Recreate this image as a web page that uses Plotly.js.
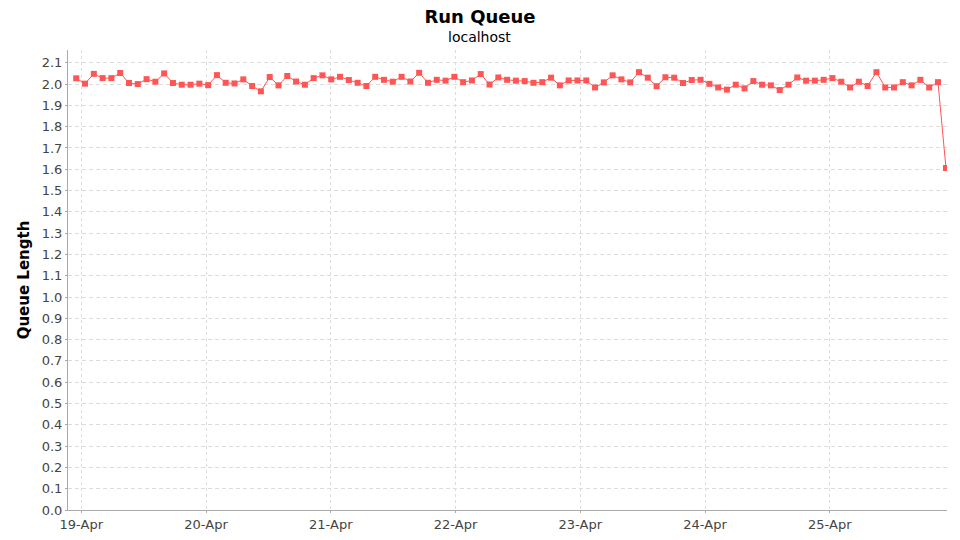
<!DOCTYPE html>
<html>
<head>
<meta charset="utf-8">
<script src="https://cdn.plot.ly/plotly-3.0.1.min.js"></script>
<style>
html,body{margin:0;padding:0;background:#fff;}
#chart{width:960px;height:540px;}
</style>
</head>
<body>
<div id="chart"></div>
<script>
// ---- data ----
const chartTitle = 'Run Queue';
const chartSubtitle = 'localhost';
const yAxisTitle = 'Queue Length';
const firstSampleTime = '2025-04-18T23:02:00';
const sampleStepMinutes = 101.5;          // regular sampling interval
const finalSampleTime = '2025-04-25T22:21:00'; // last (partial) sample
const xRange = ['2025-04-18T21:27:00', '2025-04-25T22:33:00'];
const yRange = [0, 2.16];

const queueLength = [
  2.027, 2.002, 2.048, 2.028, 2.028, 2.052, 2.005, 2.000, 2.023, 2.011, 2.050, 2.005, 1.997, 1.997, 2.002, 1.995,
  2.042, 2.006, 2.003, 2.022, 1.991, 1.966, 2.033, 1.994, 2.038, 2.012, 1.997, 2.028, 2.041, 2.022, 2.034, 2.019, 2.006,
  1.991, 2.034, 2.020, 2.011, 2.034, 2.012, 2.053, 2.006, 2.020, 2.016, 2.034, 2.009, 2.017, 2.047, 1.998, 2.031,
  2.020, 2.016, 2.014, 2.006, 2.009, 2.030, 1.994, 2.017, 2.017, 2.017, 1.984, 2.008, 2.041, 2.022, 2.008, 2.056,
  2.030,
  1.990, 2.032, 2.030, 2.005, 2.019, 2.020, 2.001, 1.984, 1.974, 1.997, 1.980, 2.014, 1.997, 1.994, 1.972, 1.997,
  2.031, 2.016, 2.016, 2.020, 2.028, 2.011, 1.984, 2.011, 1.991, 2.056, 1.984, 1.984, 2.009, 1.994, 2.020, 1.984, 2.009,
  1.606
];

// timestamps: regular samples, then the final partial sample
function fmt(d){
  const p = n => String(n).padStart(2,'0');
  return d.getFullYear()+'-'+p(d.getMonth()+1)+'-'+p(d.getDate())+' '+p(d.getHours())+':'+p(d.getMinutes())+':'+p(d.getSeconds());
}
const t0 = new Date(firstSampleTime).getTime();
const sampleTimes = queueLength.map((v,i) =>
  i === queueLength.length-1 ? finalSampleTime.replace('T',' ')
                             : fmt(new Date(t0 + i*sampleStepMinutes*60000)));

// ---- chart ----
const red = '#ff5555';
const trace = {
  x: sampleTimes,
  y: queueLength,
  type: 'scatter',
  mode: 'lines+markers',
  line: {color: red, width: 1},
  marker: {symbol: 'square', size: 6, color: red},
  hoverinfo: 'x+y'
};

const tickFont = {family: 'DejaVu Sans, sans-serif', size: 13, color: '#444'};
const gridColor = '#dcdcdc';

const layout = {
  width: 960, height: 540,
  margin: {l: 68, r: 12.5, t: 50, b: 30},
  paper_bgcolor: '#ffffff',
  plot_bgcolor: '#ffffff',
  showlegend: false,
  title: {
    text: '<b>' + chartTitle + '</b>',
    font: {family: 'DejaVu Sans, sans-serif', size: 18, color: '#000'},
    x: 0.5, xanchor: 'center', xref: 'container',
    y: 1 - 17/540, yanchor: 'middle', yref: 'container'
  },
  annotations: [{
    text: chartSubtitle,
    xref: 'paper', yref: 'paper',
    x: (480-68)/(960-68-12.5), y: 1 + 13/460,
    xanchor: 'center', yanchor: 'middle',
    showarrow: false,
    font: {family: 'DejaVu Sans, sans-serif', size: 14, color: '#000'}
  }],
  xaxis: {
    type: 'date',
    range: xRange,
    dtick: 86400000,
    tick0: '2025-04-19',
    tickformat: '%d-%b',
    tickfont: tickFont,
    ticks: 'outside', ticklen: 2, tickcolor: '#aaa',
    showline: true, linecolor: '#aaa', linewidth: 1,
    showgrid: true, gridcolor: gridColor, griddash: '3px,3px', gridwidth: 1,
    zeroline: false,
    fixedrange: true
  },
  yaxis: {
    range: yRange,
    dtick: 0.1,
    tick0: 0,
    tickformat: '.1f',
    tickfont: tickFont,
    ticks: 'outside', ticklen: 2, tickcolor: '#aaa',
    showline: true, linecolor: '#aaa', linewidth: 1,
    showgrid: true, gridcolor: gridColor, griddash: '4px,3px', gridwidth: 1,
    zeroline: false,
    title: {
      text: '<b>' + yAxisTitle + '</b>',
      font: {family: 'DejaVu Sans, sans-serif', size: 15, color: '#000'},
      standoff: 8
    },
    fixedrange: true
  }
};

Plotly.newPlot('chart', [trace], layout, {displayModeBar: false, staticPlot: true});
</script>
</body>
</html>
